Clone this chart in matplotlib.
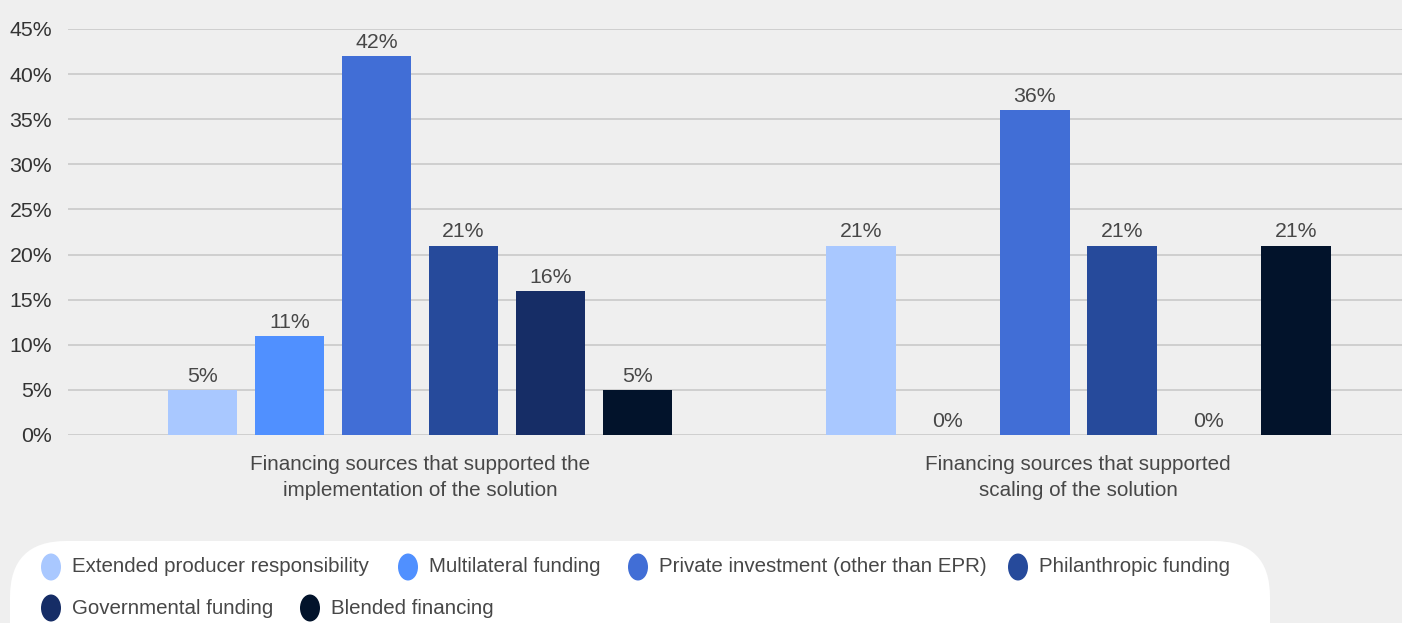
import matplotlib
matplotlib.use("Agg")
import matplotlib.pyplot as plt
from matplotlib.patches import FancyBboxPatch, Ellipse
import numpy as np

plt.rcParams['font.family'] = ['Liberation Sans', 'DejaVu Sans']

# Data
groups = ["Financing sources that supported the\nimplementation of the solution",
          "Financing sources that supported\nscaling of the solution"]
series = ["Extended producer responsibility", "Multilateral funding",
          "Private investment (other than EPR)", "Philanthropic funding",
          "Governmental funding", "Blended financing"]
implementation = [5, 11, 42, 21, 16, 5]
scaling = [21, 0, 36, 21, 0, 21]
colors = ["#a9c8ff", "#5090ff", "#416ed6", "#264a9b", "#162d66", "#02132b"]
yticks = [0, 5, 10, 15, 20, 25, 30, 35, 40, 45]

W, H = 1402, 623
bg = "#efefef"
txt = "#474747"

fig = plt.figure(figsize=(W / 100, H / 100), dpi=100, facecolor=bg)
ax = fig.add_axes([68 / W, 1 - 435 / H, 1334 / W, 406 / H], facecolor=bg)

values = np.array([implementation, scaling])
x = np.arange(len(groups))
step = 0.1322
width = 0.106
offsets = (np.arange(len(series)) - (len(series) - 1) / 2) * step
for i, name in enumerate(series):
    bars = ax.bar(x + offsets[i], values[:, i], width=width, color=colors[i],
                  label=name, zorder=3)
    for b, v in zip(bars, values[:, i]):
        ax.text(b.get_x() + b.get_width() / 2, v + 0.45, f"{v}%",
                ha="center", va="bottom", fontsize=15.3, color=txt, zorder=4)

ax.set_xlim(-0.535, 1.492)
ax.set_ylim(0, 45)
ax.set_yticks(yticks)
ax.set_yticklabels([f"{t}%" for t in yticks])
ax.yaxis.grid(True, color="#c6c6c6", linewidth=1.1, zorder=0)
ax.set_axisbelow(True)
ax.tick_params(axis="y", length=0, pad=11.5, labelsize=15.3, labelcolor="#333333")
ax.set_xticks(x)
ax.set_xticklabels(groups, fontsize=14.9, color=txt, linespacing=1.45)
ax.tick_params(axis="x", length=0, pad=14.5)
for s in ax.spines.values():
    s.set_visible(False)

# Legend panel with rounded corners
panel = FancyBboxPatch((10 / W, -80 / H), 1260 / W, (623 - 541 + 80) / H,
                       boxstyle="round,pad=0,rounding_size=0.04",
                       transform=fig.transFigure, facecolor="white",
                       edgecolor="none", mutation_aspect=W / H)
fig.patches.append(panel)

legend_pos = [(51, 567), (408, 567), (638, 567), (1018, 567), (51, 608), (310, 608)]
for (px, py), name, c in zip(legend_pos, series, colors):
    fig.patches.append(Ellipse((px / W, 1 - py / H), 20 / W, 27 / H,
                               transform=fig.transFigure, facecolor=c,
                               edgecolor="none"))
    fig.text((px + 21) / W, 1 - py / H, name, ha="left", va="center",
             fontsize=14.8, color=txt)

fig.savefig("out.png", dpi=100, facecolor=bg)
